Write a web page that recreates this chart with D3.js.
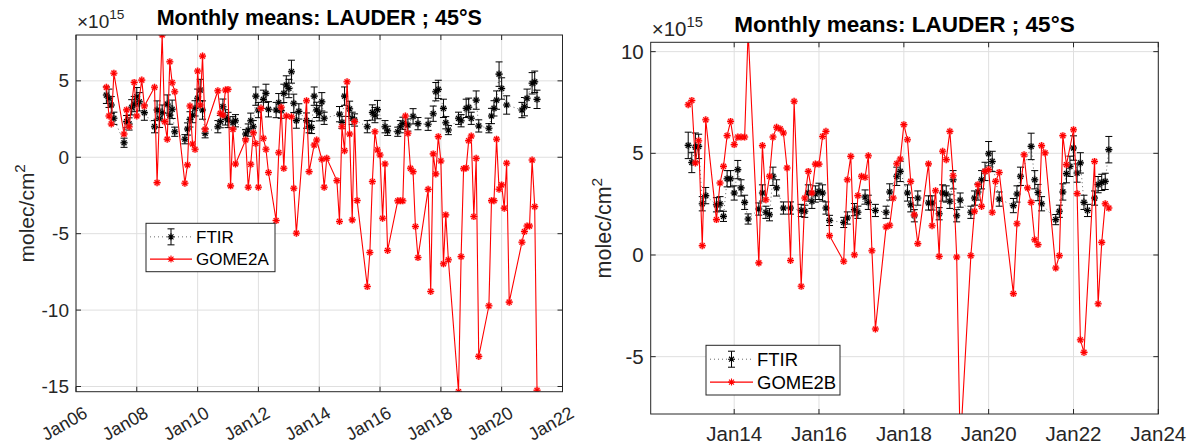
<!DOCTYPE html>
<html>
<head>
<meta charset="utf-8">
<script src="https://cdn.jsdelivr.net/npm/d3@7"></script>
<style>
  body { margin: 0; background: #fff; }
  svg { display: block; }
  text { font-family: Arial, 'Liberation Sans', Helvetica, sans-serif; }
</style>
</head>
<body>
<div class="canvas"></div>
<script>
// ---------- data (monthly means, units of 1e15 molec/cm2) ----------

// left panel: FTIR vs GOME2A
const ftirAMonths = [
  '2007-01','2007-02','2007-03','2007-04','2007-08','2007-09','2007-10','2007-11','2007-12',
  '2008-01','2008-02','2008-04','2008-08','2008-09','2008-10','2008-11',
  '2009-01','2009-02','2009-03','2009-04','2009-08','2009-09','2009-10','2009-11','2009-12',
  '2010-01','2010-02','2010-03','2010-04','2010-09','2010-10','2010-11','2010-12',
  '2011-01','2011-03','2011-04','2011-08','2011-09','2011-10','2011-11','2011-12',
  '2012-01','2012-03','2012-04','2012-05','2012-08','2012-09','2012-10','2012-11','2012-12',
  '2013-01','2013-02','2013-03','2013-04','2013-05','2013-08','2013-09','2013-10','2013-11','2013-12',
  '2014-01','2014-02','2014-03','2014-09','2014-10','2014-11',
  '2015-01','2015-02','2015-03','2015-08','2015-10','2015-11','2015-12',
  '2016-03','2016-04','2016-08','2016-09','2016-10','2016-12',
  '2017-02','2017-04','2017-08','2017-10','2017-11','2017-12',
  '2018-02','2018-03','2018-04','2018-08','2018-09','2018-11','2018-12',
  '2019-01','2019-03','2019-04','2019-08','2019-09','2019-10','2019-11','2019-12',
  '2020-01','2020-03','2020-09','2020-10','2020-11',
  '2021-01','2021-02','2021-03'
]
const ftirAValues = [
  4.07, 3.86, 3.42, 2.55, 0.95, 2.33, 2.18, 3.27, 3.48,
  3.96, 3.63, 2.92, 2.0, 3.09, 2.55, 2.92,
  3.48, 2.76, 3.14, 1.67, 1.18, 1.85, 2.48, 2.76, 3.2,
  3.86, 4.4, 3.09, 1.57, 2.0, 2.33, 3.31, 2.61,
  2.44, 2.26, 2.39, 1.52, 1.78, 2.39, 2.0, 4.0,
  3.09, 3.79, 4.18, 3.14, 3.09, 3.57, 3.05, 4.18, 4.73,
  4.5, 5.6, 3.53, 2.4, 3.0, 2.4, 2.0, 1.95, 4.0, 3.1,
  2.88, 3.63, 2.55, 2.82, 2.28, 4.0,
  3.17, 2.55, 2.44, 2.0, 2.93, 2.76, 3.12,
  2.0, 1.73, 1.67, 2.0, 2.22, 2.11,
  2.68, 2.2, 2.16, 2.85, 4.29, 4.44,
  3.2, 2.26, 1.78, 2.55, 2.39, 3.2, 3.27,
  2.55, 3.74, 2.05, 1.9, 2.7, 3.2, 3.74, 5.44,
  4.5, 3.42, 3.09, 3.31, 3.86,
  4.84, 4.94, 3.79
]
const ftirAErrors = [
  0.55, 0.6, 0.55, 0.4, 0.3, 0.4, 0.4, 0.5, 0.5,
  0.6, 0.6, 0.5, 0.4, 0.6, 0.6, 0.5,
  0.6, 0.6, 0.6, 0.3, 0.3, 0.4, 0.5, 0.5, 0.5,
  0.6, 0.7, 0.6, 0.3, 0.4, 0.4, 0.5, 0.5,
  0.5, 0.4, 0.4, 0.3, 0.4, 0.5, 0.4, 0.6,
  0.5, 0.6, 0.6, 0.5, 0.5, 0.6, 0.5, 0.6, 0.6,
  0.6, 0.75, 0.6, 0.5, 0.5, 0.5, 0.4, 0.4, 0.6, 0.5,
  0.5, 0.6, 0.4, 0.5, 0.4, 0.6,
  0.5, 0.4, 0.4, 0.4, 0.5, 0.5, 0.6,
  0.4, 0.3, 0.3, 0.4, 0.4, 0.4,
  0.5, 0.4, 0.4, 0.5, 0.6, 0.6,
  0.6, 0.4, 0.3, 0.4, 0.4, 0.6, 0.6,
  0.4, 0.6, 0.4, 0.3, 0.5, 0.5, 0.6, 0.8,
  0.7, 0.6, 0.5, 0.6, 0.6,
  0.7, 0.7, 0.6
]
const gome2aMonths = [
  '2007-01','2007-02','2007-03','2007-04','2007-08','2007-09','2007-10','2007-12',
  '2008-01','2008-03','2008-04','2008-08','2008-09','2008-11','2008-12',
  '2009-01','2009-02','2009-03','2009-04','2009-08','2009-09','2009-10','2009-11','2009-12',
  '2010-01','2010-02','2010-03','2010-04','2010-09','2010-10','2010-11','2010-12',
  '2011-01','2011-02','2011-03','2011-04','2011-08','2011-09','2011-10','2011-11','2011-12',
  '2012-01','2012-02','2012-03','2012-04','2012-05','2012-08','2012-09','2012-10','2012-11','2012-12',
  '2013-02','2013-03','2013-04','2013-08','2013-09','2013-11','2013-12',
  '2014-02','2014-03','2014-04','2014-08','2014-09','2014-10','2014-11','2014-12',
  '2015-01','2015-02','2015-03','2015-04','2015-08','2015-09','2015-10','2015-11','2015-12',
  '2016-01','2016-02','2016-03','2016-04','2016-08','2016-09','2016-10','2016-11','2016-12',
  '2017-01','2017-02','2017-03','2017-04','2017-08','2017-09','2017-10','2017-11','2017-12',
  '2018-01','2018-02','2018-03','2018-04','2018-08','2018-09','2018-10','2018-11','2018-12',
  '2019-01','2019-02','2019-03','2019-04','2019-08','2019-09','2019-10','2019-11','2019-12',
  '2020-01','2020-02','2020-03','2020-04','2020-09','2020-10','2020-11','2020-12',
  '2021-01','2021-02','2021-03'
]
const gome2aValues = [
  4.58, 2.7, 2.18, 5.5, 1.52, 3.1, 2.0, 4.9,
  2.7, 5.05, 3.35, 4.58, -1.66, 8.0, 2.33,
  1.18, 6.25, 4.88, 4.29, -1.7, -0.5, 3.35, 0.87, 0.52,
  5.64, 3.42, 6.62, 1.83, 4.35, 2.88, 2.76, 4.4,
  4.44, -1.87, 1.83, -0.44, 1.13, -1.96, -0.46, 1.6, 0.9,
  -1.96, 3.2, 1.24, 0.52, -1.0, -4.14, 0.3, 3.27, -0.72, 2.7,
  2.65, -2.03, -4.97, 3.7, -0.94, 0.8, 1.13,
  -0.13, -1.96, -0.07, -1.53, -4.2, 2.0, 0.43, 4.94,
  1.52, -4.1, 2.33, -2.83, -8.46, -6.23, -1.59, 1.67, 0.48,
  0.15, -3.99, -0.44, -6.1, -2.85, -2.85, -2.85, 2.7, 1.57,
  -0.72, -0.94, -4.53, -6.56, -2.1, -8.78, 0.22, -1.09, 1.35,
  -0.24, -6.97, -3.77, -6.71, -15.34, -6.5, -0.75, -0.7, 1.09,
  1.39, -3.88, -0.07, -13.03, -9.72, -2.84, -2.84, 1.18, -2.09,
  -1.81, -3.33, -0.39, -9.48, -5.56, -4.86, -4.5, -4.5,
  -0.18, -3.23, -15.25
]

// right panel: FTIR vs GOME2B
const ftirBMonths = [
  '2012-12',
  '2013-01','2013-02','2013-03','2013-04','2013-05','2013-08','2013-09','2013-10','2013-11','2013-12',
  '2014-01','2014-02','2014-03','2014-04','2014-05','2014-08','2014-09','2014-10','2014-11','2014-12',
  '2015-01','2015-03','2015-05','2015-08','2015-09','2015-10','2015-11','2015-12',
  '2016-01','2016-02','2016-03','2016-04','2016-08','2016-09','2016-11','2016-12',
  '2017-02','2017-03','2017-05','2017-08','2017-09','2017-11','2017-12',
  '2018-02','2018-03','2018-04','2018-05','2018-08','2018-09','2018-11','2018-12',
  '2019-01','2019-02','2019-03','2019-04','2019-05','2019-08','2019-09','2019-10','2019-11','2019-12',
  '2020-01','2020-02','2020-04','2020-08','2020-09','2020-10',
  '2021-01','2021-02','2021-03','2021-04','2021-08','2021-09','2021-10','2021-11','2021-12',
  '2022-01','2022-02','2022-03','2022-04','2022-05','2022-07','2022-08','2022-09','2022-10','2022-11'
]
const ftirBValues = [
  5.39,
  4.55, 5.3, 5.34, 2.52, 2.92, 2.47, 2.52, 1.9, 3.75, 3.75,
  3.05, 4.2, 3.3, 2.59, 1.77, 2.26, 3.05, 2.1, 1.98, 3.87,
  3.3, 2.31, 2.31, 2.19, 2.15, 3.05, 2.64, 3.0,
  3.13, 3.05, 2.31, 1.7, 1.6, 1.82, 2.23, 2.1,
  2.85, 2.59, 2.19, 2.1, 3.1, 3.87, 4.11,
  3.05, 2.47, 1.93, 2.8, 2.56, 2.56, 2.03, 3.05,
  3.0, 2.64, 3.7, 1.93, 2.7, 2.1, 2.8, 3.1, 3.7, 4.11,
  4.98, 4.6, 2.75, 2.43, 3.0, 3.87,
  5.34, 3.7, 3.07, 2.52, 1.74, 2.15, 3.1, 4.0, 4.36,
  5.26, 4.03, 4.53, 2.59, 2.19, 2.8, 3.46, 3.57, 3.62, 5.18
]
const ftirBErrors = [
  0.65,
  0.5, 0.7, 0.6, 0.35, 0.4, 0.35, 0.35, 0.25, 0.4, 0.4,
  0.35, 0.45, 0.4, 0.35, 0.25, 0.3, 0.4, 0.3, 0.3, 0.45,
  0.4, 0.3, 0.3, 0.3, 0.3, 0.4, 0.35, 0.4,
  0.4, 0.4, 0.3, 0.25, 0.25, 0.3, 0.3, 0.3,
  0.35, 0.35, 0.3, 0.3, 0.4, 0.45, 0.5,
  0.4, 0.35, 0.3, 0.35, 0.35, 0.35, 0.3, 0.4,
  0.4, 0.35, 0.45, 0.3, 0.35, 0.3, 0.35, 0.4, 0.45, 0.45,
  0.6, 0.5, 0.35, 0.35, 0.4, 0.45,
  0.65, 0.45, 0.4, 0.35, 0.25, 0.3, 0.4, 0.45, 0.5,
  0.6, 0.45, 0.5, 0.35, 0.3, 0.35, 0.4, 0.4, 0.4, 0.65
]
const gome2bMonths = [
  '2012-12',
  '2013-01','2013-02','2013-03','2013-04','2013-05','2013-08','2013-09','2013-10','2013-11','2013-12',
  '2014-01','2014-02','2014-03','2014-04','2014-05','2014-08','2014-09','2014-10','2014-11','2014-12',
  '2015-01','2015-02','2015-03','2015-04','2015-05','2015-06','2015-08','2015-09','2015-10','2015-11','2015-12',
  '2016-01','2016-02','2016-03','2016-04','2016-08','2016-09','2016-10','2016-11','2016-12',
  '2017-01','2017-02','2017-03','2017-04','2017-05','2017-08','2017-09','2017-10','2017-11','2017-12',
  '2018-01','2018-02','2018-03','2018-04','2018-05','2018-08','2018-09','2018-10','2018-11','2018-12',
  '2019-01','2019-02','2019-03','2019-04','2019-05','2019-08','2019-09','2019-10','2019-11','2019-12',
  '2020-01','2020-02','2020-03','2020-04','2020-08','2020-09','2020-11','2020-12',
  '2021-01','2021-02','2021-03','2021-04','2021-05','2021-08','2021-09','2021-10','2021-11',
  '2022-01','2022-02','2022-03','2022-04','2022-07','2022-08','2022-09','2022-10','2022-11'
]
const gome2bValues = [
  7.39,
  7.6, 4.53, 5.62, 0.46, 6.65, 1.74, 3.54, 4.36, 5.87, 6.57,
  5.43, 5.8, 5.8, 5.8, 11.0, -0.39, 5.38, 2.72, 3.87, 5.8,
  6.28, 6.2, 6.0, 4.28, -0.27, 7.56, -1.54, 2.8, 4.11, 3.05, 4.47,
  4.47, 5.83, 6.08, 0.95, -0.31, 3.7, 4.85, 0.01, 2.92,
  3.87, 3.82, 4.88, 0.21, -3.64, 1.38, 1.46, 2.8, 4.49, 4.72,
  6.41, 5.67, 3.62, 1.98, 0.56, 4.48, 1.44, 3.16, -0.07, 5.1,
  4.69, 6.08, 3.9, -0.1, -9.5, -0.03, 2.15, 3.46, 2.39, 4.11,
  4.2, 2.1, 3.62, 4.06, -1.9, 1.54, 4.93, 3.3,
  2.59, 0.75, 0.51, 5.38, 5.02, -0.64, -0.03, 5.87, 4.44,
  6.16, 3.02, -4.17, -4.79, 4.6, -2.4, 0.62, 2.52, 2.31
]

// axes settings
const titleText = 'Monthly means: LAUDER ; 45°S'
const leftXDomain = ['2006-01-01', '2022-01-01']
const rightXDomain = ['2012-01-13', '2024-01-01']
const leftYDomain = [-15.34, 8.0]
const rightYDomain = [-7.82, 10.46]
const leftYTicks = [-15, -10, -5, 0, 5]
const rightYTicks = [-5, 0, 5, 10]
const leftXTicks = ['2006-01-01','2008-01-01','2010-01-01','2012-01-01','2014-01-01','2016-01-01','2018-01-01','2020-01-01','2022-01-01']
const rightXTicks = ['2014-01-01','2016-01-01','2018-01-01','2020-01-01','2022-01-01','2024-01-01']

// ---------- drawing ----------
const parseMonth = d3.timeParse('%Y-%m')
const parseDay = d3.timeParse('%Y-%m-%d')
const fmtTick = d3.timeFormat('Jan%y')

const svg = d3.select('.canvas')
  .append('svg')
  .attr('width', 1191)
  .attr('height', 445)

// asterisk marker (plus + cross)
const star = r => {
  const a = r * 0.7071
  return `M0,${-r}V${r}M${-r},0H${r}M${-a},${-a}L${a},${a}M${-a},${a}L${a},${-a}`
}

function drawPanel(p) {
  const x = d3.scaleTime().domain(p.xDomain.map(parseDay)).range([p.left, p.left + p.width])
  const y = d3.scaleLinear().domain(p.yDomain).range([p.top + p.height, p.top])
  const bottom = p.top + p.height
  const right = p.left + p.width
  const g = svg.append('g')

  // grid
  g.selectAll('.gx').data(p.xTicks.map(parseDay)).enter().append('line')
    .attr('x1', d => x(d)).attr('x2', d => x(d))
    .attr('y1', p.top).attr('y2', bottom)
    .attr('stroke', '#dfdfdf').attr('stroke-width', 1)
  g.selectAll('.gy').data(p.yTicks).enter().append('line')
    .attr('x1', p.left).attr('x2', right)
    .attr('y1', d => y(d)).attr('y2', d => y(d))
    .attr('stroke', '#dfdfdf').attr('stroke-width', 1)

  // clip
  const clipId = 'clip' + p.id
  svg.append('clipPath').attr('id', clipId).append('rect')
    .attr('x', p.left).attr('y', p.top).attr('width', p.width).attr('height', p.height)
  const plot = g.append('g').attr('clip-path', `url(#${clipId})`)

  const ftir = p.ftirMonths.map((m, i) => ({ date: parseMonth(m), v: p.ftirValues[i], e: p.ftirErrors[i] }))
  const sat = p.satMonths.map((m, i) => ({ date: parseMonth(m), v: p.satValues[i] }))

  const line = d3.line().x(d => x(d.date)).y(d => y(d.v))

  // FTIR: dotted line, error bars, stars
  plot.append('path').datum(ftir)
    .attr('d', line).attr('fill', 'none')
    .attr('stroke', '#444').attr('stroke-width', 0.8)
    .attr('stroke-dasharray', '1,3')

  const cap = 3.5
  const bars = plot.append('g').attr('stroke', '#000').attr('stroke-width', 1)
  ftir.forEach(d => {
    const cx = x(d.date), y1 = y(d.v - d.e), y2 = y(d.v + d.e)
    bars.append('path')
      .attr('d', `M${cx},${y1}V${y2}M${cx - cap},${y1}H${cx + cap}M${cx - cap},${y2}H${cx + cap}`)
      .attr('fill', 'none')
  })
  plot.append('g').selectAll('path').data(ftir).enter().append('path')
    .attr('d', star(3.5))
    .attr('transform', d => `translate(${x(d.date)},${y(d.v)})`)
    .attr('stroke', '#888').attr('stroke-opacity', 0.6).attr('stroke-width', 2.4)
  plot.append('g').selectAll('path').data(ftir).enter().append('path')
    .attr('d', star(3.5))
    .attr('transform', d => `translate(${x(d.date)},${y(d.v)})`)
    .attr('stroke', '#000').attr('stroke-width', 1.1)

  // satellite series
  plot.append('path').datum(sat)
    .attr('d', line).attr('fill', 'none')
    .attr('stroke', '#ff0000').attr('stroke-width', 1.1)
  plot.append('g').selectAll('path').data(sat).enter().append('path')
    .attr('d', star(3.5))
    .attr('transform', d => `translate(${x(d.date)},${y(d.v)})`)
    .attr('stroke', '#ff7070').attr('stroke-opacity', 0.6).attr('stroke-width', 2.4)
  plot.append('g').selectAll('path').data(sat).enter().append('path')
    .attr('d', star(3.5))
    .attr('transform', d => `translate(${x(d.date)},${y(d.v)})`)
    .attr('stroke', '#ff0000').attr('stroke-width', 1.1)

  // axes box
  g.append('rect')
    .attr('x', p.left).attr('y', p.top).attr('width', p.width).attr('height', p.height)
    .attr('fill', 'none').attr('stroke', '#262626').attr('stroke-width', 1)

  // ticks (inward, all four sides)
  const tl = 5
  const ticks = g.append('g').attr('stroke', '#262626').attr('stroke-width', 1)
  p.xTicks.map(parseDay).forEach(d => {
    const tx = x(d)
    ticks.append('line').attr('x1', tx).attr('x2', tx).attr('y1', bottom).attr('y2', bottom - tl)
    ticks.append('line').attr('x1', tx).attr('x2', tx).attr('y1', p.top).attr('y2', p.top + tl)
  })
  p.yTicks.forEach(v => {
    const ty = y(v)
    ticks.append('line').attr('x1', p.left).attr('x2', p.left + tl).attr('y1', ty).attr('y2', ty)
    ticks.append('line').attr('x1', right).attr('x2', right - tl).attr('y1', ty).attr('y2', ty)
  })

  // tick labels
  g.selectAll('.yl').data(p.yTicks).enter().append('text')
    .attr('x', p.left - 7).attr('y', d => y(d))
    .attr('dy', '0.35em')
    .attr('text-anchor', 'end')
    .attr('font-size', p.tickSize)
    .attr('fill', '#262626')
    .text(d => d)

  p.xTicks.map(parseDay).forEach(d => {
    const t = g.append('text')
      .attr('font-size', p.xTickSize)
      .attr('fill', '#262626')
      .text(fmtTick(d))
    if (p.rotate) {
      t.attr('text-anchor', 'end')
        .attr('transform', `translate(${x(d) + 6},${bottom + 13}) rotate(-30)`)
        .attr('dy', '0.75em')
    } else {
      t.attr('text-anchor', 'middle')
        .attr('x', x(d)).attr('y', bottom + p.xLabelOffset)
    }
  })

  // exponent
  const ex = g.append('text')
    .attr('x', p.left + 1).attr('y', p.top - p.expOffset)
    .attr('font-size', p.tickSize).attr('fill', '#262626')
  ex.append('tspan').text('×10')
  ex.append('tspan').attr('dy', -9).attr('font-size', p.tickSize * 0.72).text('15')

  // title
  g.append('text')
    .attr('x', p.left + p.width / 2).attr('y', p.titleY)
    .attr('text-anchor', 'middle')
    .attr('font-size', p.titleSize).attr('font-weight', 'bold')
    .attr('fill', '#000')
    .text(titleText)

  // y label
  const yl = g.append('text')
    .attr('transform', `translate(${p.yLabelX},${p.top + p.height / 2}) rotate(-90)`)
    .attr('text-anchor', 'middle')
    .attr('font-size', p.labelSize).attr('fill', '#262626')
  yl.append('tspan').text('molec/cm')
  yl.append('tspan').attr('dy', -9).attr('font-size', p.labelSize * 0.72).text('2')

  // legend
  const L = p.legend
  const lg = g.append('g')
  lg.append('rect')
    .attr('x', L.x).attr('y', L.y).attr('width', L.w).attr('height', L.h)
    .attr('fill', '#fff').attr('stroke', '#262626').attr('stroke-width', 1)
  const r1 = L.y + L.h * 0.28, r2 = L.y + L.h * 0.74
  const lx1 = L.x + 4, lx2 = L.x + L.lineW, mx = (lx1 + lx2) / 2
  lg.append('line').attr('x1', lx1).attr('x2', lx2).attr('y1', r1).attr('y2', r1)
    .attr('stroke', '#444').attr('stroke-width', 0.8).attr('stroke-dasharray', '1,3')
  lg.append('path')
    .attr('d', `M${mx},${r1 - 8}V${r1 + 8}M${mx - cap},${r1 - 8}H${mx + cap}M${mx - cap},${r1 + 8}H${mx + cap}`)
    .attr('stroke', '#000').attr('fill', 'none')
  lg.append('path').attr('d', star(3.5)).attr('transform', `translate(${mx},${r1})`)
    .attr('stroke', '#000').attr('stroke-width', 1.1)
  lg.append('line').attr('x1', lx1).attr('x2', lx2).attr('y1', r2).attr('y2', r2)
    .attr('stroke', '#ff0000').attr('stroke-width', 1.1)
  lg.append('path').attr('d', star(3.5)).attr('transform', `translate(${mx},${r2})`)
    .attr('stroke', '#ff0000').attr('stroke-width', 1.1)
  lg.append('text').attr('x', lx2 + 4).attr('y', r1).attr('dy', '0.35em')
    .attr('font-size', L.size).attr('fill', '#000').text('FTIR')
  lg.append('text').attr('x', lx2 + 4).attr('y', r2).attr('dy', '0.35em')
    .attr('font-size', L.size).attr('fill', '#000').text(p.satName)
}

drawPanel({
  id: 'A', left: 76, top: 35, width: 486.5, height: 356.7,
  xDomain: leftXDomain, yDomain: leftYDomain,
  xTicks: leftXTicks, yTicks: leftYTicks, rotate: true,
  tickSize: 19, xTickSize: 18, titleSize: 21.5, labelSize: 21, titleY: 25, expOffset: 7, yLabelX: 34,
  ftirMonths: ftirAMonths, ftirValues: ftirAValues, ftirErrors: ftirAErrors,
  satMonths: gome2aMonths, satValues: gome2aValues, satName: 'GOME2A',
  legend: { x: 146, y: 223.3, w: 129, h: 48.4, lineW: 46, size: 17 }
})

drawPanel({
  id: 'B', left: 650.7, top: 42.3, width: 507.6, height: 371.7,
  xDomain: rightXDomain, yDomain: rightYDomain,
  xTicks: rightXTicks, yTicks: rightYTicks, rotate: false, xLabelOffset: 26.5,
  tickSize: 20.5, xTickSize: 20.5, titleSize: 22.5, labelSize: 21.5, titleY: 31.7, expOffset: 6.5, yLabelX: 611,
  ftirMonths: ftirBMonths, ftirValues: ftirBValues, ftirErrors: ftirBErrors,
  satMonths: gome2bMonths, satValues: gome2bValues, satName: 'GOME2B',
  legend: { x: 706, y: 345.3, w: 134, h: 49.7, lineW: 47, size: 18.5 }
})
</script>
</body>
</html>
